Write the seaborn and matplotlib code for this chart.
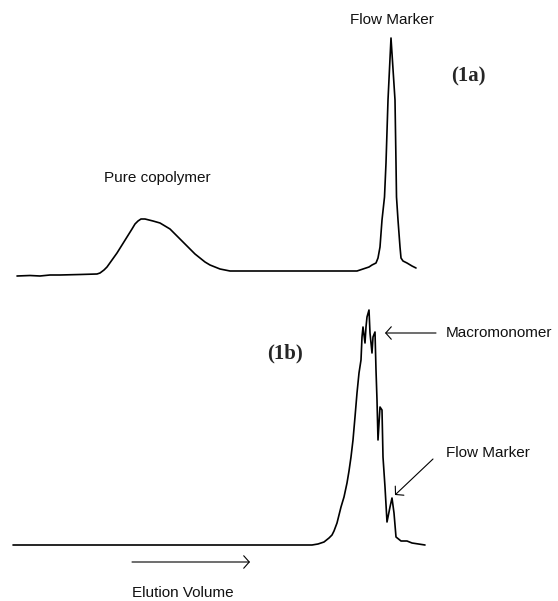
import numpy as np
import pandas as pd
import seaborn as sns
import matplotlib.pyplot as plt

# (1a) pure copolymer trace: elution volume (arb. units) vs detector response
vol_1a = [17, 30, 40, 50, 60, 80, 97, 100, 104, 107, 112, 117, 122, 127, 132,
          135, 138, 141, 145, 149, 153, 160, 165, 170, 175, 180, 185, 190, 195,
          200, 205, 210, 215, 220, 225, 230, 279, 330, 357, 363, 369, 372, 376,
          378, 380, 382, 384.5, 386, 388, 391, 395, 396, 396.5, 398, 400, 401,
          403, 407, 412, 416]
resp_1a = [0, 0.5, 0, 1, 1, 1.5, 2, 3, 6, 9, 16, 23, 31, 39, 47,
           52, 55, 57, 57, 56, 55, 53, 50, 47, 42, 37, 32, 27, 22,
           18, 14, 11, 9, 7, 6, 5, 5, 5, 5, 7, 9, 11, 13,
           18, 29, 56, 79, 113, 176, 238, 176, 113, 79, 56, 29, 18,
           15, 13, 10, 8]

# (1b) macromonomer trace
vol_1b = [13, 150, 250, 312, 318, 324, 329, 332, 334, 337, 339, 341, 344, 347,
          349, 351, 353, 355, 357, 359, 361, 362, 363, 365, 366, 367, 369, 370,
          372, 373, 375, 376, 377, 378, 380, 382, 383, 385, 387, 390, 392, 394,
          396, 401, 407, 412, 425]
resp_1b = [0, 0, 0, 0, 1, 3, 7, 10, 14, 22, 30, 38, 48, 62,
           74, 88, 105, 128, 152, 172, 185, 208, 218, 202, 218, 228, 235, 212,
           192, 208, 213, 175, 145, 105, 138, 135, 88, 58, 23, 38, 47, 32,
           8, 4, 4, 2, 0]

df_a = pd.DataFrame({'volume': vol_1a, 'response': resp_1a})
df_b = pd.DataFrame({'volume': vol_1b, 'response': resp_1b})

sns.set_style('white')
plt.rcParams['font.family'] = ['Liberation Sans', 'DejaVu Sans']

fig = plt.figure(figsize=(5.58, 6.01), dpi=100)
ax_a = fig.add_axes([0, 301 / 601, 1, 300 / 601])
ax_b = fig.add_axes([0, 0, 1, 301 / 601])

sns.lineplot(data=df_a, x='volume', y='response', ax=ax_a, color='black',
             linewidth=1.2, estimator=None, sort=False)
sns.lineplot(data=df_b, x='volume', y='response', ax=ax_b, color='black',
             linewidth=1.2, estimator=None, sort=False)

ax_a.set_xlim(0, 558)
ax_a.set_ylim(-24, 276)
ax_b.set_xlim(0, 558)
ax_b.set_ylim(-56, 245)
for ax in (ax_a, ax_b):
    ax.set_axis_off()

sans = dict(fontsize=11, color='#111111', va='center')
serif = dict(fontsize=15, fontweight='bold', family='Liberation Serif',
             va='center', ha='center')
arrow = dict(arrowstyle='->,head_length=0.4,head_width=0.45', color='black',
             lw=0.8, shrinkA=0, shrinkB=0)

# top panel labels
ax_a.text(391.5, 256, 'Flow Marker', ha='center', **sans)
ax_a.text(157, 98, 'Pure copolymer', ha='center', **sans)
ax_a.text(468, 200, '(1a)', **serif)

# bottom panel labels
ax_b.text(285, 192, '(1b)', **serif)
ax_b.text(446, 212, 'Macromonomer', ha='left', **sans)
ax_b.annotate('', xy=(385, 212), xytext=(436, 212), arrowprops=arrow)
ax_b.text(446, 92, 'Flow Marker', ha='left', **sans)
ax_b.annotate('', xy=(395, 50), xytext=(433, 86), arrowprops=arrow)
ax_b.annotate('', xy=(250, -17), xytext=(132, -17), arrowprops=arrow)
ax_b.text(183, -48, 'Elution Volume', ha='center', **sans)

fig.savefig('out.png', dpi=100)
